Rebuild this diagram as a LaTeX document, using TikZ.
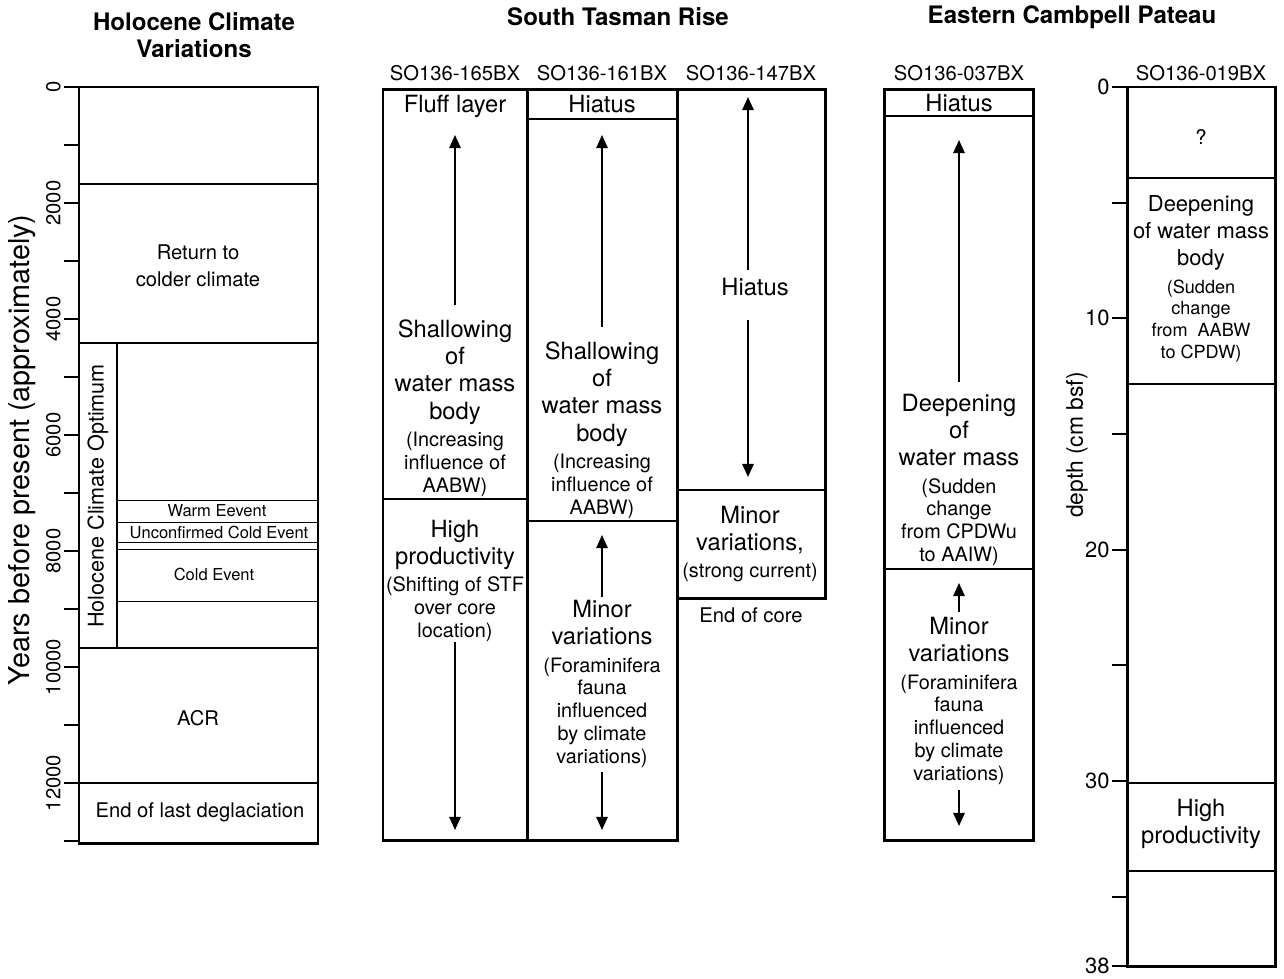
\documentclass[tikz,border=0pt]{standalone}
\usepackage{fontspec}
\setmainfont{TeX Gyre Heros}
\usetikzlibrary{arrows.meta,positioning}

\newcommand{\bigf}{\fontsize{13.5}{15.5}\selectfont}
\newcommand{\smf}{\fontsize{11.3}{12.6}\selectfont}
\newcommand{\tinyf}{\fontsize{10.3}{12.6}\selectfont}

\begin{document}
\begin{tikzpicture}[x=0.02cm,y=-0.02cm,
  frame/.style={line width=1.7pt},
  bound/.style={line width=1.1pt},
  fine/.style={line width=0.5pt},
  arr/.style={line width=1.1pt,-{Triangle[length=7.5pt,width=6.5pt]}},
  ttl/.style={font=\bfseries\fontsize{13.7}{15}\selectfont,align=center},
  lbl/.style={align=center,inner sep=0pt,font=\fontsize{11.5}{15.5}\selectfont},
  txt/.style={align=center,inner sep=0pt,font=\bigf}]
  \useasboundingbox (0,0) rectangle (1284,978);

  % titles
  \node[ttl] (tholo) at (194,35) {Holocene Climate\\Variations};
  \node[ttl] (tstr) at (618,17) {South Tasman Rise};
  \node[ttl] (tecp) at (1072,17) {Eastern Cambpell Pateau};
  \foreach \n/\x/\t in {h165/455/SO136-165BX,h161/602/SO136-161BX,h147/751/SO136-147BX,h037/959/SO136-037BX,h019/1201/SO136-019BX}
    {\node[lbl] (\n) at (\x,73) {\t};}

  % time axis
  \foreach \k in {0,...,13} {\draw[bound] (64,{87+58*\k}) -- (79,{87+58*\k});}
  \foreach \k in {0,2,...,12} {\node[lbl,rotate=90,anchor=south] (yr\k) at (61,{87+58*\k}) {\the\numexpr\k*1000\relax};}
  \node[rotate=90,font=\fontsize{16.4}{18}\selectfont,inner sep=0pt] (yax) at (22,450) {Years before present (approximately)};

  % Holocene column
  \draw[frame] (79,87) rectangle (318,843);
  \draw[bound] (79,184) -- (318,184);
  \draw[bound] (79,343) -- (318,343);
  \draw[bound] (117,343) -- (117,648);
  \foreach \y in {500,522,542,549,601} {\draw[fine] (117,\y) -- (318,\y);}
  \draw[bound] (79,648) -- (318,648);
  \draw[bound] (79,783) -- (318,783);
  \node[lbl] (ret) at (198,266) {Return to\\colder climate};
  \node[lbl,rotate=90,font=\fontsize{12.3}{14}\selectfont] (hco) at (98,496) {Holocene Climate Optimum};
  \node[txt,font=\fontsize{9.4}{11}\selectfont] (warm) at (217,511) {Warm Eevent};
  \node[txt,font=\fontsize{9.4}{11}\selectfont] (ucold) at (219,532) {Unconfirmed Cold Event};
  \node[txt,font=\fontsize{9.4}{11}\selectfont] (cold) at (214,574) {Cold Event};
  \node[lbl] (acr) at (198,718) {ACR};
  \node[lbl] (endg) at (200,812) {End of last deglaciation};

  % South Tasman Rise cores
  \draw[frame] (383,89) rectangle (527,840);
  \draw[frame] (527,89) rectangle (677,840);
  \draw[frame] (677,89) rectangle (825,598);
  \draw[bound] (383,499) -- (527,499);
  \draw[bound] (527,119) -- (677,119);
  \draw[bound] (527,521) -- (677,521);
  \draw[bound] (677,490) -- (825,490);

  \node[txt] (fluff) at (455,106) {Fluff layer};
  \node[txt] (shal1) at (455,408) {Shallowing\\of\\water mass\\body\\\smf(Increasing\\[-2.5pt]\smf influence of\\[-2.5pt]\smf AABW)};
  \node[txt] (prod1) at (455,581) {High\\productivity\\\smf(Shifting of STF\\[-2.5pt]\smf over core\\[-2.5pt]\smf location)};
  \node[txt] (hia2) at (602,104) {Hiatus};
  \node[txt] (shal2) at (602,430) {Shallowing\\of\\water mass\\body\\\smf(Increasing\\[-2.5pt]\smf influence of\\[-2.5pt]\smf AABW)};
  \node[txt] (minor2) at (602,684) {Minor\\variations\\\smf(Foraminifera\\[-2.5pt]\smf fauna\\[-2.5pt]\smf influenced\\[-2.5pt]\smf by climate\\[-2.5pt]\smf variations)};
  \node[txt] (hia3) at (755,287) {Hiatus};
  \node[txt] (minor3) at (750,544) {Minor\\variations,\\\smf(strong current)};
  \node[lbl] (eoc) at (751,615) {End of core};

  \coordinate (a1s) at (455,305); \coordinate (a1e) at (455,135);
  \coordinate (a2s) at (455,642); \coordinate (a2e) at (455,830);
  \coordinate (b1s) at (602,327); \coordinate (b1e) at (602,135);
  \coordinate (b2s) at (602,597); \coordinate (b2e) at (602,535);
  \coordinate (b3s) at (602,772); \coordinate (b3e) at (602,830);
  \coordinate (c1s) at (748,270); \coordinate (c1e) at (748,97);
  \coordinate (c2s) at (748,320); \coordinate (c2e) at (748,477);
  \draw[arr] (a1s) -- (a1e); \draw[arr] (a2s) -- (a2e);
  \draw[arr] (b1s) -- (b1e); \draw[arr] (b2s) -- (b2e); \draw[arr] (b3s) -- (b3e);
  \draw[arr] (c1s) -- (c1e); \draw[arr] (c2s) -- (c2e);

  % Eastern Campbell Plateau cores
  \draw[frame] (884,89) rectangle (1033,840);
  \draw[bound] (884,116) -- (1033,116);
  \draw[bound] (884,569) -- (1033,569);
  \node[txt] (hia4) at (959,103) {Hiatus};
  \node[txt] (deep4) at (959,480) {Deepening\\of\\water mass\\\smf(Sudden\\[-2.5pt]\smf change\\[-2.5pt]\smf from CPDWu\\[-2.5pt]\smf to AAIW)};
  \node[txt] (minor4) at (959,701) {Minor\\variations\\\smf(Foraminifera\\[-2.5pt]\smf fauna\\[-2.5pt]\smf influenced\\[-2.5pt]\smf by climate\\[-2.5pt]\smf variations)};
  \coordinate (d1s) at (959,382); \coordinate (d1e) at (959,140);
  \coordinate (d2s) at (959,612); \coordinate (d2e) at (959,583);
  \coordinate (d3s) at (959,790); \coordinate (d3e) at (959,826);
  \draw[arr] (d1s) -- (d1e); \draw[arr] (d2s) -- (d2e); \draw[arr] (d3s) -- (d3e);

  % depth axis
  \foreach \d in {0,5,...,35,38} {\draw[bound] (1112,{87+23.13*\d}) -- (1127,{87+23.13*\d});}
  \foreach \d in {0,10,20,30,38} {\node[lbl,anchor=east,font=\fontsize{12.5}{14}\selectfont] (dep\d) at (1110,{87+23.13*\d}) {\d};}
  \node[rotate=90,inner sep=0pt,font=\fontsize{13}{15}\selectfont] (dax) at (1077,445) {depth (cm bsf)};

  \draw[frame] (1127,87) rectangle (1275,966);
  \draw[bound] (1127,178) -- (1275,178);
  \draw[bound] (1127,384) -- (1275,384);
  \draw[bound] (1127,783) -- (1275,783);
  \draw[bound] (1127,871) -- (1275,871);
  \node[lbl] (q5) at (1201,137) {?};
  \node[txt,font=\fontsize{12.5}{15.5}\selectfont] (deep5) at (1201,279) {Deepening\\of water mass\\body\\\tinyf(Sudden\\[-3pt]\tinyf change\\[-3pt]\tinyf from~ AABW\\[-3pt]\tinyf to CPDW)};
  \node[txt] (prod5) at (1201,824) {High\\productivity};
\end{tikzpicture}
\end{document}
